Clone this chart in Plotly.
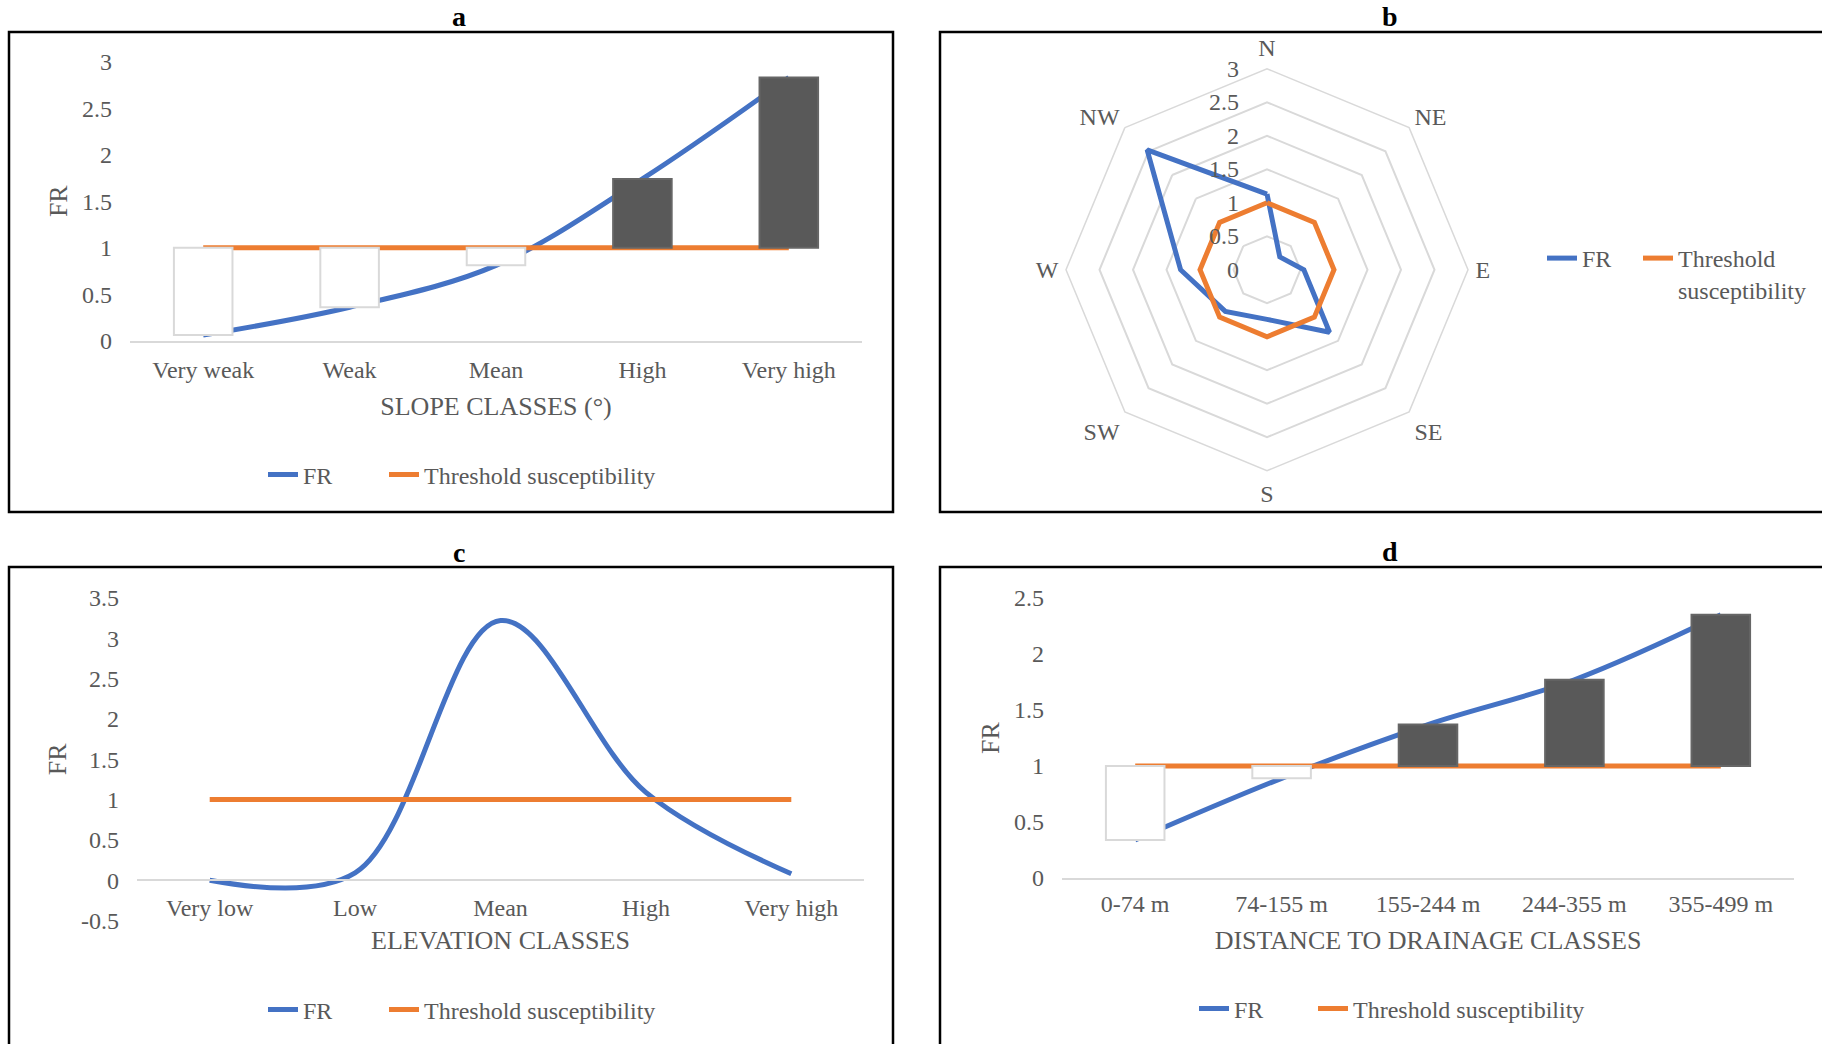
import plotly.graph_objects as go

# ---- figure geometry helpers (pixel -> paper coordinates) ----
W, H = 1822, 1044


def px(x):
    return x / W


def py(y):
    return 1 - y / H


FONT = "Liberation Serif, Times New Roman, serif"
GREY = "#595959"
BLUE = "#4472C4"
ORANGE = "#ED7D31"
AXIS = "#d9d9d9"
DARK_BAR = "#595959"

# ---- data ----
threshold = 1.0

slope_classes = ["Very weak", "Weak", "Mean", "High", "Very high"]
slope_fr = [0.06, 0.36, 0.81, 1.74, 2.83]

aspect_dirs = ["N", "NE", "E", "SE", "S", "SW", "W", "NW"]
aspect_fr = [1.13, 0.27, 0.55, 1.32, 0.74, 0.88, 1.29, 2.53]

elev_classes = ["Very low", "Low", "Mean", "High", "Very high"]
elev_fr = [0.0, 0.09, 3.22, 1.09, 0.08]
elev_tickvals = [-0.5, 0, 0.5, 1, 1.5, 2, 2.5, 3, 3.5]
elev_ticktext = ["-0.5", "0", "0.5", "1", "1.5", "2", "2.5", "3", "3.5"]

drain_classes = ["0-74 m", "74-155 m", "155-244 m", "244-355 m", "355-499 m"]
drain_fr = [0.34, 0.89, 1.37, 1.77, 2.35]

LINE_W = 5
TICK_FONT = dict(family=FONT, size=24, color=GREY)
TITLE_FONT = dict(family=FONT, size=26, color=GREY)

fig = go.Figure()


def add_line_panel(classes, values, xa, ya, leg_fr, leg_thr):
    fig.add_trace(go.Scatter(
        x=classes, y=values, mode="lines", name="FR",
        line=dict(color=BLUE, width=LINE_W, shape="spline", smoothing=1),
        xaxis=xa, yaxis=ya, legend=leg_fr, hoverinfo="skip"))
    fig.add_trace(go.Scatter(
        x=classes, y=[threshold] * len(classes), mode="lines",
        name="Threshold susceptibility",
        line=dict(color=ORANGE, width=LINE_W),
        xaxis=xa, yaxis=ya, legend=leg_thr, hoverinfo="skip"))


def add_updown_bars(classes, values, xa, ya):
    # floating bars between the threshold and the FR value
    fills = ["white" if v < threshold else DARK_BAR for v in values]
    edges = [AXIS if v < threshold else "#666666" for v in values]
    fig.add_trace(go.Bar(
        x=classes, y=[v - threshold for v in values], base=threshold,
        width=0.4, marker=dict(color=fills, line=dict(color=edges, width=2)),
        xaxis=xa, yaxis=ya, showlegend=False, hoverinfo="skip"))


# (a) slope
add_line_panel(slope_classes, slope_fr, "x", "y", "legend", "legend5")
add_updown_bars(slope_classes, slope_fr, "x5", "y5")

# (b) aspect radar
fig.add_trace(go.Scatterpolar(
    r=aspect_fr + aspect_fr[:1], theta=aspect_dirs + aspect_dirs[:1],
    mode="lines", name="FR", line=dict(color=BLUE, width=LINE_W),
    subplot="polar", legend="legend2", hoverinfo="skip"))
fig.add_trace(go.Scatterpolar(
    r=[threshold] * (len(aspect_dirs) + 1), theta=aspect_dirs + aspect_dirs[:1],
    mode="lines", name="Threshold<br>susceptibility",
    line=dict(color=ORANGE, width=LINE_W),
    subplot="polar", legend="legend6", hoverinfo="skip"))

# (c) elevation
add_line_panel(elev_classes, elev_fr, "x3", "y3", "legend3", "legend7")

# (d) distance to drainage
add_line_panel(drain_classes, drain_fr, "x4", "y4", "legend4", "legend8")
add_updown_bars(drain_classes, drain_fr, "x6", "y6")


def xaxis_style(title, domain, classes, label_gap=6, title_gap=15):
    return dict(
        domain=domain, type="category", categoryorder="array",
        categoryarray=classes, range=[-0.5, len(classes) - 0.5],
        showline=True, linecolor=AXIS, linewidth=2, showgrid=False,
        zeroline=False, ticks="", tickfont=TICK_FONT,
        ticklabelstandoff=label_gap, automargin=False,
        title=dict(text=title, font=TITLE_FONT, standoff=title_gap),
        fixedrange=True)


def yaxis_style(domain, rng, dtick):
    return dict(
        domain=domain, range=rng, dtick=dtick, showgrid=False, zeroline=False,
        showline=False, ticks="", tickfont=TICK_FONT, ticklabelstandoff=17,
        automargin=False,
        title=dict(text="FR", font=TITLE_FONT, standoff=6), fixedrange=True)


xa = xaxis_style("SLOPE CLASSES (°)", [px(130), px(862)], slope_classes)
xa["anchor"] = "y"
ya = yaxis_style([py(340.7), py(61.7)], [0, 3], 0.5)
ya["anchor"] = "x"

xc = xaxis_style("ELEVATION CLASSES", [px(137), px(864)], elev_classes,
                 label_gap=6, title_gap=10)
xc["anchor"] = "free"
xc["position"] = py(880.3)
yc = yaxis_style([py(920.5), py(598)], [-0.5, 3.5], 0.5)
yc["anchor"] = "x3"
yc["tickvals"] = elev_tickvals
yc["ticktext"] = elev_ticktext

xd = xaxis_style("DISTANCE TO DRAINAGE CLASSES", [px(1062), px(1794)],
                 drain_classes, label_gap=3, title_gap=15)
xd["anchor"] = "y4"
yd = yaxis_style([py(878), py(598)], [0, 2.5], 0.5)
yd["anchor"] = "x4"


def overlay_x(base, classes):
    return dict(overlaying=base, visible=False, type="category",
                categoryorder="array", categoryarray=classes,
                range=[-0.5, len(classes) - 0.5], fixedrange=True)


def overlay_y(base, anchor, rng):
    return dict(overlaying=base, anchor=anchor, visible=False, range=rng,
                fixedrange=True)


def legend_at(x, y, yanchor="middle"):
    return dict(x=px(x), y=py(y), xanchor="left", yanchor=yanchor,
                orientation="h", font=dict(family=FONT, size=24, color=GREY),
                bgcolor="rgba(0,0,0,0)", itemclick=False, itemdoubleclick=False,
                valign="top", tracegroupgap=0)


panel_titles = [("a", 459, 16), ("b", 1390, 16), ("c", 459, 552), ("d", 1390, 551)]
annotations = [
    dict(text=f"<b>{t}</b>", x=px(x), y=py(y), xref="paper", yref="paper",
         xanchor="center", yanchor="middle", showarrow=False,
         font=dict(family=FONT, size=28, color="black"))
    for t, x, y in panel_titles
]

border = dict(color="black", width=2.5)
shapes = [
    dict(type="rect", xref="paper", yref="paper", x0=px(9), x1=px(893),
         y0=py(512), y1=py(32), line=border),
    dict(type="rect", xref="paper", yref="paper", x0=px(940), x1=px(1830),
         y0=py(512), y1=py(32), line=border),
    dict(type="rect", xref="paper", yref="paper", x0=px(9), x1=px(893),
         y0=py(1060), y1=py(567), line=border),
    dict(type="rect", xref="paper", yref="paper", x0=px(940), x1=px(1830),
         y0=py(1060), y1=py(567), line=border),
]

# radial labels are centred on their anchor; trailing no-break spaces push
# the visible digits to the left of the north spoke
RADIAL_PAD = "\u00a0" * 4

fig.update_layout(
    width=W, height=H, autosize=False,
    margin=dict(l=0, r=0, t=0, b=0, pad=0, autoexpand=False),
    paper_bgcolor="white", plot_bgcolor="white",
    font=dict(family=FONT, color=GREY),
    barmode="overlay",
    xaxis=xa, yaxis=ya,
    xaxis3=xc, yaxis3=yc,
    xaxis4=xd, yaxis4=yd,
    xaxis5=overlay_x("x", slope_classes), yaxis5=overlay_y("y", "x5", [0, 3]),
    xaxis6=overlay_x("x4", drain_classes), yaxis6=overlay_y("y4", "x6", [0, 2.5]),
    polar=dict(
        domain=dict(x=[px(1066), px(1468)], y=[py(471.5), py(68)]),
        bgcolor="white",
        gridshape="linear",
        angularaxis=dict(
            direction="clockwise", rotation=90, type="category",
            categoryorder="array", categoryarray=aspect_dirs,
            showgrid=False, showline=True, linecolor=AXIS, linewidth=1.5,
            ticks="outside", ticklen=2, tickcolor="rgba(0,0,0,0)",
            tickfont=TICK_FONT),
        radialaxis=dict(
            range=[0, 3], dtick=0.5, angle=90, tickangle=90,
            side="counterclockwise", showline=False, gridcolor=AXIS,
            gridwidth=1.5, ticks="", ticksuffix=RADIAL_PAD,
            tickfont=TICK_FONT),
    ),
    # one legend per entry so each entry sits where it belongs
    legend=legend_at(263, 475),
    legend5=legend_at(384, 475),
    legend2=legend_at(1542, 236, yanchor="top"),
    legend6=legend_at(1638, 236, yanchor="top"),
    legend3=legend_at(263, 1010),
    legend7=legend_at(384, 1010),
    legend4=legend_at(1194, 1009),
    legend8=legend_at(1313, 1009),
    annotations=annotations,
    shapes=shapes,
    showlegend=True,
)

fig.write_html("out.html")
